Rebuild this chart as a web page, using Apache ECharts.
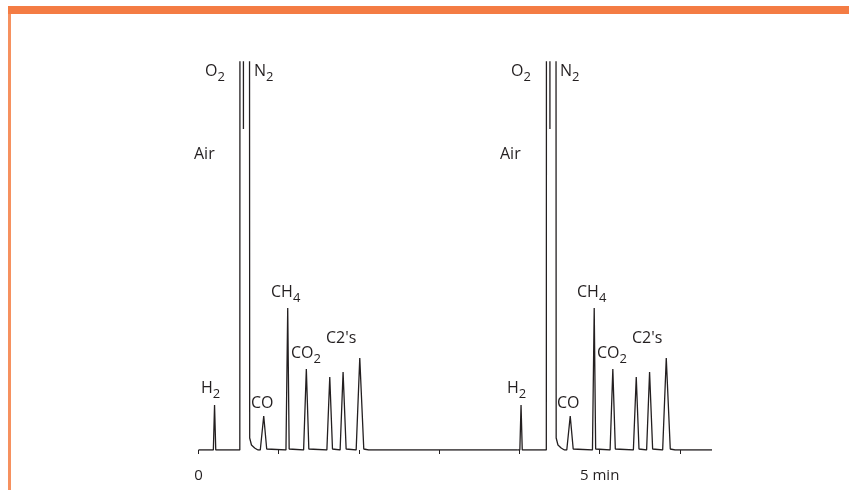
<!DOCTYPE html>
<html>
<head>
<meta charset="utf-8">
<script src="https://cdn.jsdelivr.net/npm/echarts@6/dist/echarts.min.js"></script>
<style>html,body{margin:0;padding:0;background:#fff;}#main{width:849px;height:490px;}</style>
</head>
<body>
<div id="main"></div>
<script>
// trace points [minutes, response] of the chromatogram
var injection1 = [
    [0, 0], [0.185, 0], [0.2, 45], [0.215, 0], [0.515, 0], [0.517, 600], [0.635, 600],
    [0.638, 12], [0.66, 5], [0.7, 2], [0.74, 0], [0.77, 0], [0.813, 34], [0.85, 1],
    [1.09, 0], [1.112, 142], [1.13, 1], [1.31, 0], [1.344, 81], [1.375, 1], [1.6, 0],
    [1.636, 73], [1.67, 1], [1.765, 0], [1.802, 78], [1.84, 1], [1.965, 0], [2.01, 92],
    [2.06, 1], [2.12, 0], [3.98, 0]
];
var injection2 = [
    [3.98, 0], [4.005, 0], [4.02, 45], [4.035, 0], [4.335, 0], [4.337, 600], [4.455, 600],
    [4.458, 12], [4.48, 5], [4.52, 2], [4.56, 0], [4.59, 0], [4.633, 34], [4.67, 1],
    [4.91, 0], [4.932, 142], [4.95, 1], [5.13, 0], [5.164, 81], [5.195, 1], [5.42, 0],
    [5.456, 73], [5.49, 1], [5.585, 0], [5.622, 78], [5.66, 1], [5.785, 0], [5.83, 92],
    [5.88, 1], [5.94, 0], [6.4, 0]
];
// O2 shoulder line inside the air peak
var o2Split1 = [[0.56, 600], [0.56, 321]];
var o2Split2 = [[4.38, 600], [4.38, 321]];
var tickLabels = {0: '0', 5: '5 min'};

var txt = function (x, y, str) {
    return {type: 'text', left: x, top: y, style: {
        text: str, fill: '#231f20', font: '16px "Open Sans", sans-serif',
        rich: {
            b: {fontSize: 16, fontFamily: 'Open Sans', fill: '#231f20', lineHeight: 20, verticalAlign: 'bottom'},
            s: {fontSize: 13, fontFamily: 'Open Sans', fill: '#231f20', lineHeight: 14, padding: [0, 0, -5, 0], verticalAlign: 'bottom'}
        }
    }};
};
var labelSet = function (dx) {
    return [
        txt(205 + dx, 63, '{b|O}{s|2}'),
        txt(254 + dx, 63, '{b|N}{s|2}'),
        txt(194 + dx, 146, '{b|Air}'),
        txt(271 + dx, 284, '{b|CH}{s|4}'),
        txt(291 + dx, 345, '{b|CO}{s|2}'),
        txt(326 + dx, 330, "{b|C2's}"),
        txt(201 + dx, 380, '{b|H}{s|2}'),
        txt(251 + dx, 395, '{b|CO}')
    ];
};

var myChart = echarts.init(document.getElementById('main'));
var line = {color: '#231f20', width: 1.3};
var option = {
    animation: false,
    grid: {left: 198.5, right: 137, top: 62, bottom: 40},
    xAxis: {
        type: 'value', min: 0, max: 6.4, interval: 1, offset: 11,
        splitLine: {show: false}, axisLine: {show: false},
        axisTick: {show: true, length: 4, inside: false, lineStyle: {color: '#231f20'}},
        axisLabel: {
            showMaxLabel: false, color: '#231f20', fontSize: 15, fontFamily: 'Open Sans', margin: 7,
            formatter: function (v) { return tickLabels[v] || ''; }
        }
    },
    yAxis: {type: 'value', min: 0, max: 388, show: false},
    series: [
        {type: 'line', data: injection1, showSymbol: false, lineStyle: line, clip: true},
        {type: 'line', data: injection2, showSymbol: false, lineStyle: line, clip: true},
        {type: 'line', data: o2Split1, showSymbol: false, lineStyle: line, clip: true},
        {type: 'line', data: o2Split2, showSymbol: false, lineStyle: line, clip: true}
    ],
    graphic: [
        {type: 'rect', shape: {x: 8, y: 6, width: 841, height: 8}, style: {fill: '#f47c44'}},
        {type: 'rect', shape: {x: 8, y: 14, width: 3, height: 476}, style: {fill: '#f6915f'}}
    ].concat(labelSet(0), labelSet(306))
};
myChart.setOption(option);
</script>
</body>
</html>
